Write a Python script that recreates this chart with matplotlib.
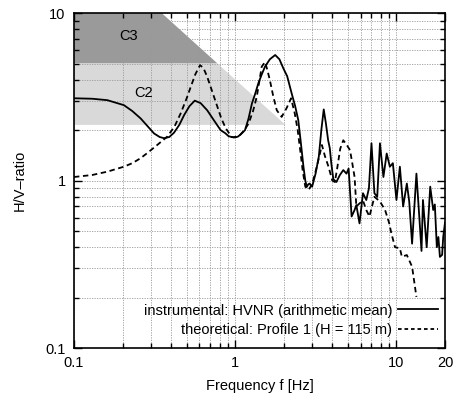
import numpy as np
import matplotlib
matplotlib.use("Agg")
import matplotlib.pyplot as plt

plt.rcParams['font.family'] = ['Liberation Sans', 'DejaVu Sans']
plt.rcParams['font.size'] = 10.5

# instrumental HVNR (arithmetic mean)
f_inst = [0.1, 0.13, 0.161, 0.204, 0.23, 0.259, 0.285, 0.314, 0.34, 0.362,
          0.39, 0.417, 0.45, 0.482, 0.52, 0.561, 0.61, 0.67, 0.74, 0.812,
          0.866, 0.91, 0.951, 1.0, 1.04, 1.09, 1.15, 1.21, 1.27, 1.33,
          1.39, 1.46, 1.53, 1.64, 1.77, 1.88, 1.99, 2.1, 2.24, 2.35,
          2.46, 2.55, 2.65, 2.72, 2.78, 2.84, 2.9, 2.95, 3.0, 3.15,
          3.3, 3.42, 3.54, 3.65, 3.77, 3.86, 3.95, 4.06, 4.24, 4.46,
          4.68, 4.9, 5.05, 5.27, 5.5, 5.64, 5.9, 6.2, 6.5, 6.75,
          7.0, 7.3, 7.6, 7.9, 8.3, 8.7, 9.1, 9.5, 10.0, 10.5,
          11.0, 11.6, 12.0, 12.5, 13.3, 13.9, 14.3, 14.6, 15.4, 16.2,
          16.9, 17.3, 17.8, 18.2, 18.6, 19.2, 19.5, 20.0]
hv_inst = [3.10, 3.08, 3.02, 2.82, 2.6, 2.35, 2.12, 1.91, 1.82, 1.79,
           1.82, 1.93, 2.15, 2.46, 2.78, 3.0, 2.9, 2.63, 2.28, 2.0,
           1.92, 1.84, 1.82, 1.81, 1.83, 1.9, 2.0, 2.35, 2.89, 3.3,
           3.8, 4.3, 4.79, 5.3, 5.62, 5.3, 4.67, 4.2, 3.31, 2.8,
           2.30, 1.7, 1.21, 1.0, 0.918, 0.95, 0.96, 0.93, 0.92, 1.1,
           1.39, 2.0, 2.66, 2.2, 1.74, 1.56, 1.25, 1.02, 0.98, 1.08,
           1.155, 1.10, 1.18, 0.61, 0.667, 0.714, 0.555, 0.84, 0.765, 0.9,
           1.67, 0.84, 0.8, 1.67, 1.05, 1.45, 1.21, 1.27, 0.765, 1.21,
           0.70, 0.96, 0.75, 0.42, 1.10, 0.58, 0.38, 0.765, 0.40, 0.92,
           0.667, 0.72, 0.40, 0.46, 0.35, 0.36, 0.46, 0.56]

# theoretical: Profile 1 (H = 115 m)
f_theo = [0.1, 0.13, 0.161, 0.204, 0.23, 0.259, 0.29, 0.328, 0.379, 0.42,
          0.459, 0.5, 0.53, 0.565, 0.605, 0.635, 0.67, 0.72, 0.775, 0.82,
          0.874, 0.95, 0.98, 1.07, 1.14, 1.21, 1.29, 1.36, 1.41, 1.46,
          1.53, 1.58, 1.64, 1.72, 1.81, 1.94, 2.08, 2.22, 2.34, 2.44,
          2.53, 2.62, 2.72, 2.85, 3.0, 3.2, 3.45, 3.6, 3.8, 4.0,
          4.15, 4.3, 4.48, 4.68, 4.9, 5.15, 5.3, 5.5, 5.64, 5.9,
          6.2, 6.5, 6.8, 7.3, 7.9, 8.5, 9.0, 9.3, 9.8, 10.5,
          10.8, 11.6, 12.5, 13.3]
hv_theo = [1.05, 1.08, 1.13, 1.21, 1.27, 1.36, 1.48, 1.63, 1.83, 2.1,
           2.52, 3.1, 3.63, 4.3, 4.89, 4.7, 4.17, 3.4, 2.76, 2.35,
           2.05, 1.82, 1.81, 1.87, 2.0, 2.19, 2.6, 3.16, 3.9, 4.79,
           5.1, 4.6, 3.98, 3.2, 2.63, 2.4, 2.70, 3.10, 2.52, 2.0,
           1.52, 1.15, 0.92, 0.88, 0.95, 1.2, 1.63, 1.4, 1.2, 1.0,
           0.98, 1.2, 1.55, 1.74, 1.64, 1.52, 1.3, 1.05, 0.70, 0.73,
           0.76, 0.667, 0.61, 0.80, 0.75, 0.667, 0.56, 0.484, 0.40, 0.394,
           0.351, 0.359, 0.306, 0.202]

# shaded criteria bands: C2 (light) and C3 (dark), cut by one diagonal
c2_low, c2_high, c3_high = 2.15, 5.0, 10.0
diag_f = [0.35, 2.05]
diag_hv = [10.0, 2.15]

slope = np.log10(diag_hv[1] / diag_hv[0]) / np.log10(diag_f[1] / diag_f[0])
f_at5 = diag_f[0] * (c2_high / diag_hv[0]) ** (1 / slope)

fig = plt.figure(figsize=(4.55, 3.97), dpi=100)
ax = fig.add_axes([0.1626, 0.1234, 0.8154, 0.8436])

ax.fill([0.1, 0.1, diag_f[0], f_at5], [c2_high, c3_high, c3_high, c2_high],
        color='#9a9a9a', lw=0, zorder=0)
ax.fill([0.1, 0.1, f_at5, diag_f[1]], [c2_low, c2_high, c2_high, c2_low],
        color='#d9d9d9', lw=0, zorder=0)
ax.text(0.217, 7.3, 'C3', ha='center', va='center')
ax.text(0.272, 3.32, 'C2', ha='center', va='center')

ax.plot(f_inst, hv_inst, color='black', lw=1.3,
        label='instrumental: HVNR (arithmetic mean)', zorder=3)
ax.plot(f_theo, hv_theo, color='black', lw=1.3, dashes=(3, 2),
        label='theoretical: Profile 1 (H = 115 m)', zorder=3)

ax.set_xscale('log')
ax.set_yscale('log')
ax.set_xlim(0.1, 20)
ax.set_ylim(0.1, 10)
ax.set_xticks([0.1, 1, 10, 20])
ax.set_xticklabels(['0.1', '1', '10', '20'])
ax.set_yticks([0.1, 1, 10])
ax.set_yticklabels(['0.1', '1', '10'])

ax.grid(True, which='both', color='#999999', ls=(0, (1.5, 1.5)), lw=0.6, zorder=1)
ax.set_axisbelow(False)
ax.tick_params(which='both', direction='in', top=True, right=True, width=1.0)
ax.tick_params(which='major', length=6, pad=6)
ax.tick_params(which='minor', length=3.5)
for s in ax.spines.values():
    s.set_linewidth(1.2)
    s.set_zorder(4)

ax.set_xlabel('Frequency f [Hz]', labelpad=6)
ax.set_ylabel('H/V\u2013ratio', labelpad=13)

leg = ax.legend(loc='lower right', bbox_to_anchor=(1.0, 0.012),
                frameon=False, markerfirst=False,
                handlelength=2.75, handletextpad=0.4, labelspacing=0.4,
                borderaxespad=0.05)
leg.get_lines()[1].set_dashes((2, 1.6))

fig.savefig('out.png', dpi=100)
